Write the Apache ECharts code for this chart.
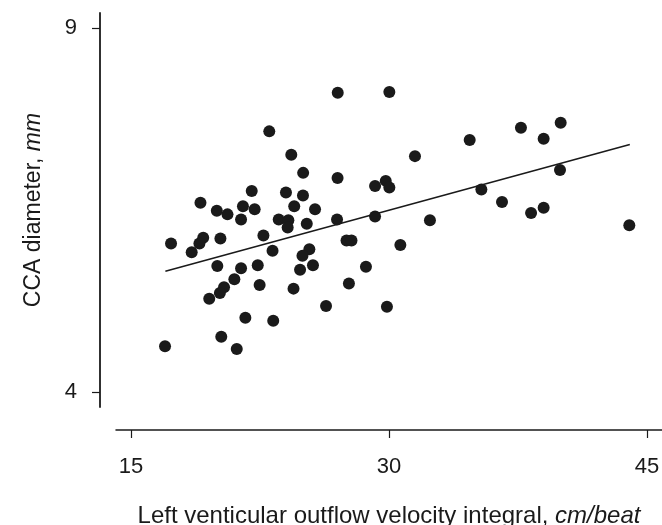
<!DOCTYPE html>
<html>
<head>
<meta charset="utf-8">
<script src="https://cdn.jsdelivr.net/npm/echarts@6/dist/echarts.min.js"></script>
<style>
  html, body { margin: 0; padding: 0; background: #fff; }
  #chart { width: 662px; height: 525px; }
</style>
</head>
<body>
<div id="chart"></div>
<script>
// LVOT velocity integral (cm/beat) vs CCA diameter (mm)
const velocity = [
  27.02, 30.02, 23.04, 24.32, 31.51, 25.01, 27.01, 29.19, 29.81, 30.02,
  22.02, 24.01, 25.0, 19.04, 19.99, 20.61, 21.51, 22.19, 24.49, 25.7,
  21.4, 23.59, 24.15, 24.11, 25.22, 26.98, 29.19, 32.38, 34.69, 37.67,
  39.98, 38.99, 39.94, 35.37, 36.57, 38.26, 38.99, 43.97, 17.33, 19.2,
  18.98, 18.53, 20.2, 22.7, 23.23, 25.37, 24.97, 25.58, 24.83, 20.02,
  21.4, 22.37, 21.01, 20.41, 20.17, 19.55, 22.48, 24.45, 26.34, 21.65,
  23.27, 20.25, 16.98, 21.15, 29.88, 27.53, 27.82, 28.66, 27.67, 30.66
];
const diameter = [
  8.11, 8.12, 7.58, 7.26, 7.24, 7.01, 6.94, 6.83, 6.9, 6.81,
  6.76, 6.74, 6.7, 6.6, 6.49, 6.44, 6.55, 6.51, 6.55, 6.51,
  6.37, 6.37, 6.36, 6.26, 6.31, 6.37, 6.41, 6.36, 7.46, 7.63,
  7.7, 7.48, 7.05, 6.78, 6.61, 6.46, 6.53, 6.29, 6.04, 6.12,
  6.04, 5.92, 6.11, 6.15, 5.94, 5.96, 5.87, 5.74, 5.68, 5.73,
  5.7, 5.74, 5.55, 5.44, 5.36, 5.28, 5.47, 5.42, 5.18, 5.02,
  4.98, 4.76, 4.63, 4.59, 5.17, 6.08, 6.08, 5.72, 5.49, 6.02
];
// regression line ends
const fitX = [17.0, 44.0];
const fitY = [5.66, 7.4];
const xTicks = [15, 30, 45];
const yTicks = [4, 9];

const ink = "#1a1a1a";
const font = "'Liberation Sans', Arial, sans-serif";

const points = velocity.map((v, i) => [v, diameter[i]]);
const fitLine = fitX.map((v, i) => [v, fitY[i]]);

const chart = echarts.init(document.getElementById("chart"));
chart.setOption({
  animation: false,
  backgroundColor: "#fff",
  grid: { left: 116, right: 0, top: 13, bottom: 118, outerBoundsMode: "none" },
  xAxis: {
    type: "value",
    min: 14.13,
    max: 45.87,
    offset: 23,
    splitLine: { show: false },
    axisLine: { lineStyle: { color: ink, width: 1.5 } },
    axisTick: { customValues: xTicks, length: 8, lineStyle: { color: ink, width: 1.2 } },
    axisLabel: { customValues: xTicks, margin: 26, fontSize: 22, color: ink, fontFamily: font },
    name: "{a|Left venticular outflow velocity integral, }{b|cm/beat}",
    nameLocation: "middle",
    nameGap: 74,
    nameTextStyle: {
      rich: {
        a: { fontSize: 24, color: ink, fontFamily: font },
        b: { fontSize: 24, color: ink, fontFamily: font, fontStyle: "italic" }
      }
    }
  },
  yAxis: {
    type: "value",
    min: 3.794,
    max: 9.206,
    offset: 16,
    splitLine: { show: false },
    axisLine: { lineStyle: { color: ink, width: 1.8 } },
    axisTick: { customValues: yTicks, length: 8, lineStyle: { color: ink, width: 1.2 } },
    axisLabel: { customValues: yTicks, margin: 23, fontSize: 22, color: ink, fontFamily: font },
    name: "{a|CCA diameter, }{b|mm}",
    nameLocation: "middle",
    nameGap: 55,
    nameTextStyle: {
      rich: {
        a: { fontSize: 23, color: ink, fontFamily: font },
        b: { fontSize: 23, color: ink, fontFamily: font, fontStyle: "italic" }
      }
    }
  },
  series: [
    {
      type: "scatter",
      data: points,
      symbolSize: 12,
      itemStyle: { color: ink, opacity: 1 },
      z: 3
    },
    {
      type: "line",
      data: fitLine,
      showSymbol: false,
      lineStyle: { color: ink, width: 1.6 },
      z: 2
    }
  ]
});
</script>
</body>
</html>
